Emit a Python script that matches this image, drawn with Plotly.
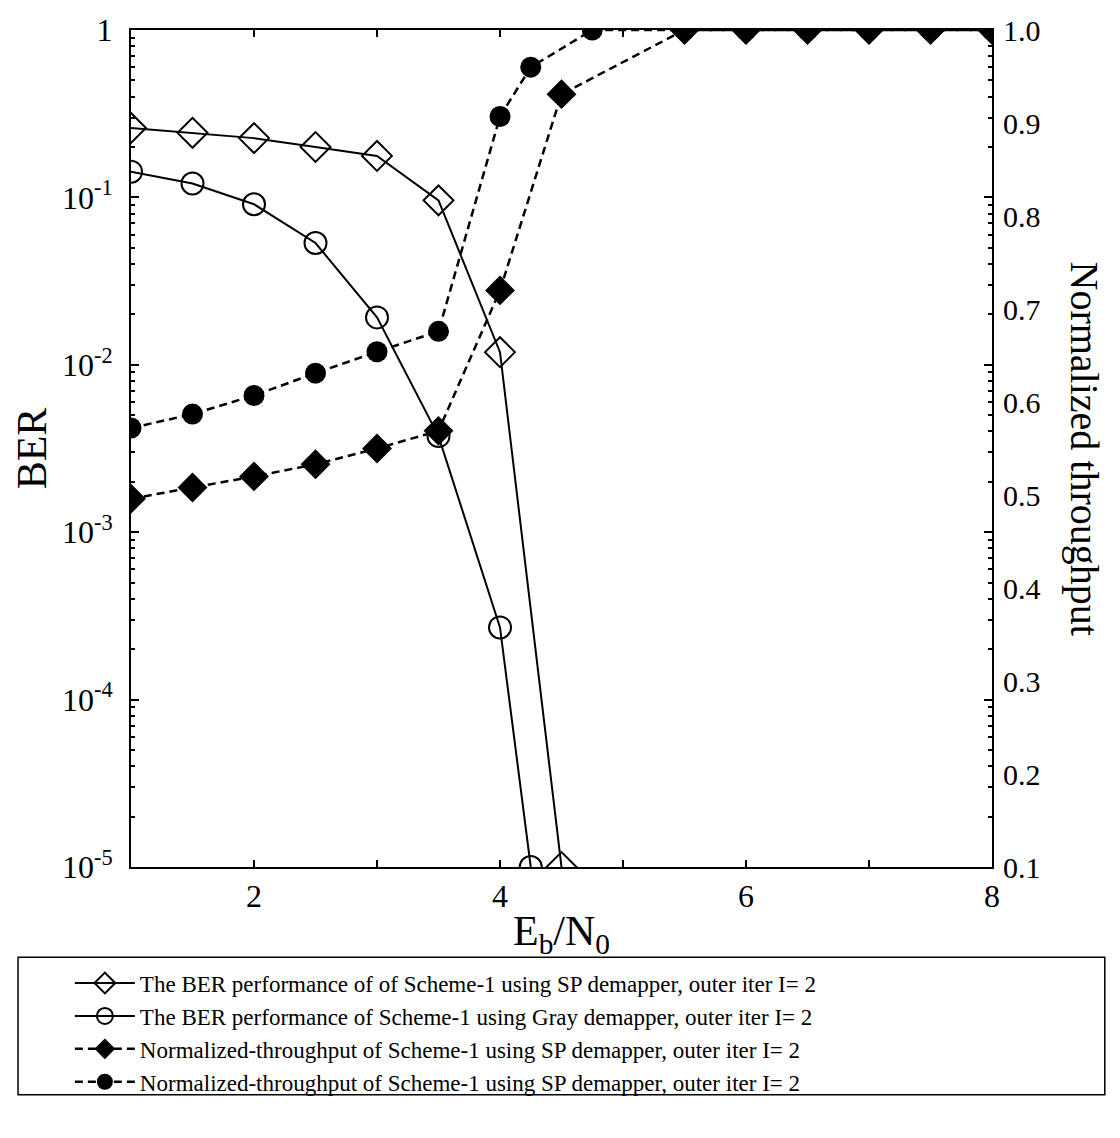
import plotly.graph_objects as go

# ---- data ----
x_sp_ber = [1, 1.5, 2, 2.5, 3, 3.5, 4, 4.5]
y_sp_ber = [0.26, 0.243, 0.226, 0.20, 0.177, 0.096, 0.0119, 1e-5]

x_gray_ber = [1, 1.5, 2, 2.5, 3, 3.5, 4, 4.25]
y_gray_ber = [0.1425, 0.121, 0.091, 0.0534, 0.0192, 0.00375, 0.00027, 1e-5]

x_tp_circle = [1, 1.5, 2, 2.5, 3, 3.5, 4, 4.25, 4.75, 5.5, 6, 6.5, 7, 7.5, 8]
y_tp_circle = [0.572, 0.587, 0.607, 0.631, 0.654, 0.676, 0.907, 0.960, 1.0, 1.0, 1.0, 1.0, 1.0, 1.0, 1.0]

x_tp_diamond = [1, 1.5, 2, 2.5, 3, 3.5, 4, 4.5, 5.5, 6, 6.5, 7, 7.5, 8]
y_tp_diamond = [0.496, 0.508, 0.520, 0.533, 0.550, 0.569, 0.720, 0.931, 1.0, 1.0, 1.0, 1.0, 1.0, 1.0]

names = [
    "The BER performance of of Scheme-1 using SP demapper, outer iter I= 2",
    "The BER performance of Scheme-1 using Gray demapper, outer iter I= 2",
    "Normalized-throughput of Scheme-1 using SP demapper, outer iter I= 2",
    "Normalized-throughput of Scheme-1 using SP demapper, outer iter I= 2",
]

ber_tickvals = [1e-5, 1e-4, 1e-3, 1e-2, 1e-1, 1]
ber_ticktext = ["10<sup>-5</sup>", "10<sup>-4</sup>", "10<sup>-3</sup>",
                "10<sup>-2</sup>", "10<sup>-1</sup>", "1"]
tp_tickvals = [0.1, 0.2, 0.3, 0.4, 0.5, 0.6, 0.7, 0.8, 0.9, 1.0]
tp_ticktext = ["0.1", "0.2", "0.3", "0.4", "0.5", "0.6", "0.7", "0.8", "0.9", "1.0"]
minor_log = [k * 10.0 ** e for e in range(-5, 0) for k in range(2, 10)]

FONT = "Liberation Serif"
DASH = "8px,5px"

fig = go.Figure()
fig.add_trace(go.Scatter(
    x=x_sp_ber, y=y_sp_ber, name=names[0], mode="lines+markers",
    line=dict(color="black", width=2),
    marker=dict(symbol="diamond-open", size=23, color="black", line=dict(width=2)),
    yaxis="y"))
fig.add_trace(go.Scatter(
    x=x_gray_ber, y=y_gray_ber, name=names[1], mode="lines+markers",
    line=dict(color="black", width=2),
    marker=dict(symbol="circle-open", size=22, color="black", line=dict(width=2)),
    yaxis="y"))
fig.add_trace(go.Scatter(
    x=x_tp_circle, y=y_tp_circle, name=names[3], mode="lines+markers",
    line=dict(color="black", width=2.5, dash=DASH),
    marker=dict(symbol="circle", size=21, color="black"),
    yaxis="y2", showlegend=False))
fig.add_trace(go.Scatter(
    x=x_tp_diamond, y=y_tp_diamond, name=names[2], mode="lines+markers",
    line=dict(color="black", width=2.5, dash=DASH),
    marker=dict(symbol="diamond", size=23, color="black"),
    yaxis="y2"))
# legend entry for the circle throughput series (keeps legend order)
fig.add_trace(go.Scatter(
    x=[None], y=[None], name=names[3], mode="lines+markers",
    line=dict(color="black", width=2.5, dash=DASH),
    marker=dict(symbol="circle", size=21, color="black"),
    yaxis="y2"))

fig.update_layout(
    width=1120, height=1138,
    margin=dict(l=131, r=128, t=22, b=271),
    paper_bgcolor="white", plot_bgcolor="white",
    font=dict(family=FONT, color="black", size=26),
    showlegend=True,
    legend=dict(
        x=-0.071, y=-0.113, xanchor="left", yanchor="top",
        font=dict(family=FONT, size=23, color="black"),
        bgcolor="rgba(0,0,0,0)", borderwidth=0,
        itemwidth=60, tracegroupgap=0,
    ),
    xaxis=dict(
        range=[1, 8], tick0=0, dtick=2,
        ticks="inside", ticklen=7, tickwidth=1.5, tickcolor="black",
        minor=dict(dtick=1, tick0=0, ticks="inside", ticklen=7, tickwidth=1.5, tickcolor="black"),
        showline=True, linecolor="black", linewidth=2, mirror="allticks",
        showgrid=False, zeroline=False,
        tickfont=dict(family=FONT, size=32),
        title=dict(text="E<sub>b</sub>/N<sub>0</sub>", font=dict(family=FONT, size=42), standoff=2),
    ),
    yaxis=dict(
        type="log", range=[-5, 0],
        tickvals=ber_tickvals, ticktext=ber_ticktext,
        ticks="inside", ticklen=8, tickwidth=1.5, tickcolor="black",
        minor=dict(tickvals=minor_log, ticks="inside", ticklen=4, tickwidth=1.5, tickcolor="black"),
        showline=True, linecolor="black", linewidth=2, mirror="allticks",
        showgrid=False, zeroline=False,
        tickfont=dict(family=FONT, size=32),
        ticklabelstandoff=10,
        title=dict(text="BER", font=dict(family=FONT, size=42), standoff=2),
    ),
    yaxis2=dict(
        overlaying="y", side="right", range=[0.1, 1.0],
        tickvals=tp_tickvals, ticktext=tp_ticktext,
        ticks="", showline=False, showgrid=False, zeroline=False,
        tickfont=dict(family=FONT, size=30),
        ticklabelstandoff=10,
    ),
    shapes=[dict(type="rect", xref="paper", yref="paper",
                 x0=-0.1312, x1=1.131, y0=-0.272, y1=-0.1077,
                 line=dict(color="black", width=1.5), fillcolor="rgba(0,0,0,0)")],
    annotations=[dict(text="Normalized throughput", xref="paper", yref="paper",
                      x=1.108, y=0.5, textangle=90, showarrow=False,
                      xanchor="center", yanchor="middle",
                      font=dict(family=FONT, size=40, color="black"))],
)

fig.write_html("out.html")
